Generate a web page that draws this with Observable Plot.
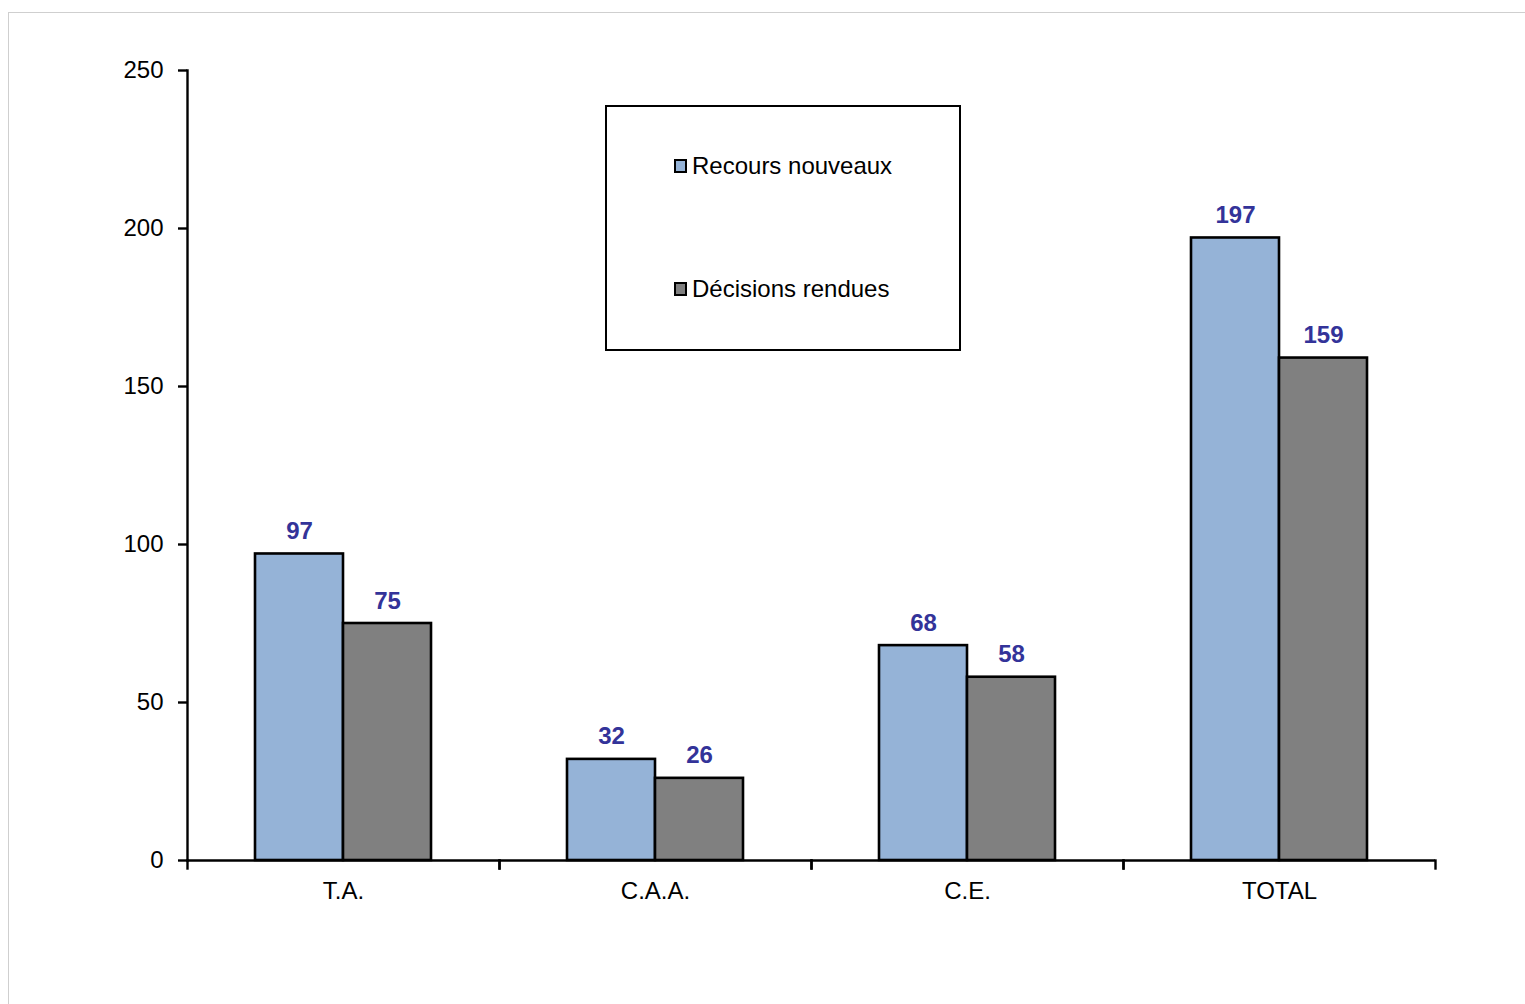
<!DOCTYPE html>
<html lang="fr">
<head>
<meta charset="utf-8">
<script src="https://cdn.jsdelivr.net/npm/d3@7"></script>
<script src="https://cdn.jsdelivr.net/npm/@observablehq/plot@0.6"></script>
<style>
  html, body { margin: 0; padding: 0; background: #fff; overflow: hidden; }
  #page { position: relative; width: 1525px; height: 1004px; }
  #sheet { position: absolute; left: 8px; top: 12px; width: 1600px; height: 1100px;
           border-left: 1px solid #cfcfcf; border-top: 1px solid #cfcfcf; }
  #chart { position: absolute; left: 0; top: 0; }
  #legend { position: absolute; left: 605px; top: 105px; width: 352px; height: 242px;
            border: 2px solid #000; background: #fff;
            font-family: "Liberation Sans", Arial, sans-serif; font-size: 24px; color: #000; }
  .item { position: absolute; left: 67px; display: flex; align-items: center; white-space: nowrap; }
  .swatch { width: 9px; height: 10px; border: 2px solid #000; margin-right: 5px; }
</style>
</head>
<body>
<div id="page">
  <div id="sheet"></div>
  <div id="chart"></div>
  <div id="legend"></div>
</div>
<script>
// Juridictions and the two series of counts
const categories = ["T.A.", "C.A.A.", "C.E.", "TOTAL"];
const seriesNames = ["Recours nouveaux", "Décisions rendues"];
const recoursNouveaux = [97, 32, 68, 197];
const decisionsRendues = [75, 26, 58, 159];
const yTicks = [0, 50, 100, 150, 200, 250];
const seriesColors = ["#95b3d7", "#808080"];

const data = categories.flatMap((c, i) => [
  {cat: c, series: seriesNames[0], value: recoursNouveaux[i]},
  {cat: c, series: seriesNames[1], value: decisionsRendues[i]}
]);

const width = 1525, height = 1004;
const margin = {top: 70, right: 90, bottom: 144, left: 187};
const frameHeight = height - margin.top - margin.bottom;
const font = "'Liberation Sans', Arial, sans-serif";

const chart = Plot.plot({
  width, height,
  marginTop: margin.top, marginRight: margin.right,
  marginBottom: margin.bottom, marginLeft: margin.left,
  style: {fontFamily: font, fontSize: "24px", color: "#000", background: "transparent", overflow: "visible"},
  fx: {domain: categories, padding: 0, label: null},
  x: {domain: seriesNames, paddingInner: 0, paddingOuter: 0.76, axis: null},
  y: {domain: [0, 250], label: null},
  color: {domain: seriesNames, range: seriesColors},
  marks: [
    Plot.barY(data, {fx: "cat", x: "series", y: "value", fill: "series", stroke: "#000", strokeWidth: 2.6}),
    Plot.text(data, {
      fx: "cat", x: "series", y: "value", text: d => String(d.value),
      lineAnchor: "bottom", dy: -15, fill: "#333399", fontWeight: "bold", fontSize: 24
    }),
    // horizontal axis line and the separators between juridictions
    Plot.ruleY([0], {stroke: "#000", strokeWidth: 2.4}),
    Plot.frame({anchor: "left", insetTop: frameHeight, insetBottom: -8, stroke: "#000", strokeWidth: 2.4}),
    Plot.frame({anchor: "right", insetTop: frameHeight, insetBottom: -8, stroke: "#000", strokeWidth: 2.4}),
    // vertical axis line
    Plot.frame({anchor: "left", facetAnchor: "left", stroke: "#000", strokeWidth: 2.4}),
    Plot.axisY({ticks: yTicks, tickSize: 9, tickPadding: 15, strokeWidth: 2.4, fontSize: 24, fill: "#000"}),
    Plot.axisFx({anchor: "bottom", tickSize: 0, tickPadding: 21, fontSize: 24, fill: "#000", label: null})
  ]
});
document.getElementById("chart").append(chart);

// Legend box
const legend = document.getElementById("legend");
const rowTops = [45, 168];
seriesNames.forEach((name, i) => {
  const item = document.createElement("div");
  item.className = "item";
  item.style.top = rowTops[i] + "px";
  const sw = document.createElement("span");
  sw.className = "swatch";
  sw.style.background = seriesColors[i];
  const label = document.createElement("span");
  label.textContent = name;
  item.append(sw, label);
  legend.append(item);
});
</script>
</body>
</html>
